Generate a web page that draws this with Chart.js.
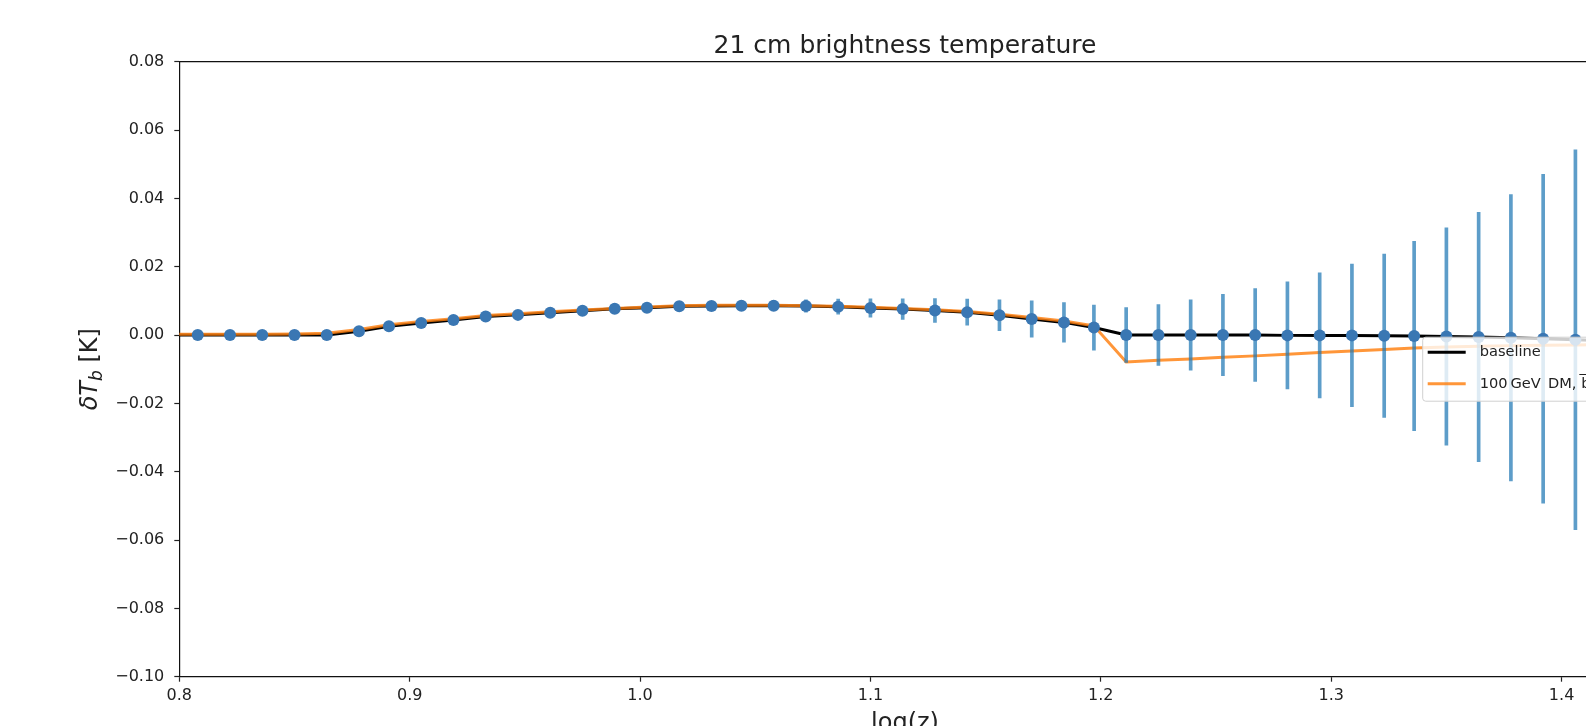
<!DOCTYPE html>
<html><head><meta charset="utf-8">
<script src="https://cdn.jsdelivr.net/npm/chart.js@4.4.1/dist/chart.umd.min.js"></script>
<style>
html,body{margin:0;padding:0;background:#fff;overflow:hidden;width:1586px;height:726px;}
#wrap{position:absolute;left:0;top:0;width:1810px;height:726px;}
</style></head>
<body><div id="wrap"><canvas id="c" width="1810" height="726"></canvas></div>
<script>
// ---- data ----
const logZ = [0.808, 0.822, 0.836, 0.850, 0.864, 0.878, 0.891, 0.905, 0.919, 0.933, 0.947, 0.961, 0.975, 0.989, 1.003, 1.017, 1.031, 1.044, 1.058, 1.072, 1.086, 1.100, 1.114, 1.128, 1.142, 1.156, 1.170, 1.184, 1.197, 1.211, 1.225, 1.239, 1.253, 1.267, 1.281, 1.295, 1.309, 1.323, 1.336, 1.350, 1.364, 1.378, 1.392, 1.406];
const dTb = [0, 0, 0, 0, 0, 0.0011, 0.0026, 0.0035, 0.0044, 0.0054, 0.0059, 0.0065, 0.0071, 0.0077, 0.0080, 0.0084, 0.0085, 0.0086, 0.0086, 0.0085, 0.0083, 0.0079, 0.0076, 0.0072, 0.0067, 0.0058, 0.0047, 0.0037, 0.0022, 0, 0, 0, 0, 0, -0.0001, -0.0001, -0.0001, -0.0002, -0.0003, -0.0004, -0.0006, -0.0008, -0.0011, -0.0014];
const dTbErr = [0.0003, 0.0003, 0.0003, 0.0004, 0.0004, 0.0004, 0.0005, 0.0005, 0.0005, 0.0006, 0.0006, 0.0007, 0.0007, 0.0008, 0.0009, 0.0010, 0.0011, 0.0012, 0.0015, 0.0018, 0.0022, 0.0027, 0.0030, 0.0035, 0.0038, 0.0045, 0.0053, 0.0058, 0.0066, 0.0080, 0.0089, 0.0103, 0.0119, 0.0136, 0.0157, 0.0183, 0.0209, 0.0239, 0.0277, 0.0318, 0.0365, 0.0419, 0.0481, 0.0556];
const curveZ = [0.794, 0.808, 0.822, 0.836, 0.850, 0.864, 0.878, 0.891, 0.905, 0.919, 0.933, 0.947, 0.961, 0.975, 0.989, 1.003, 1.017, 1.031, 1.044, 1.058, 1.072, 1.086, 1.100, 1.114, 1.128, 1.142, 1.156, 1.170, 1.184, 1.197, 1.211, 1.225, 1.239, 1.253, 1.267, 1.281, 1.295, 1.309, 1.323, 1.336, 1.350, 1.364, 1.378, 1.392, 1.406, 1.420];
const baselineCurve = [0, 0, 0, 0, 0, 0, 0.0011, 0.0026, 0.0035, 0.0044, 0.0054, 0.0059, 0.0065, 0.0071, 0.0077, 0.0080, 0.0084, 0.0085, 0.0086, 0.0086, 0.0085, 0.0083, 0.0079, 0.0076, 0.0072, 0.0067, 0.0058, 0.0047, 0.0037, 0.0022, 0, 0, 0, 0, 0, -0.0001, -0.0001, -0.0001, -0.0002, -0.0003, -0.0004, -0.0006, -0.0008, -0.0011, -0.0014, -0.0017];
const dmCurve = [0.0002, 0.0002, 0.0002, 0.0002, 0.0003, 0.0005, 0.0016, 0.0030, 0.0040, 0.0048, 0.0057, 0.0062, 0.0068, 0.0073, 0.0078, 0.0082, 0.0086, 0.0087, 0.0087, 0.0087, 0.0086, 0.0084, 0.0081, 0.0078, 0.0074, 0.0069, 0.0061, 0.0051, 0.0041, 0.0027, -0.0079, -0.0074, -0.0070, -0.0065, -0.0061, -0.0056, -0.0051, -0.0047, -0.0042, -0.0038, -0.0035, -0.0033, -0.0031, -0.0030, -0.0029, -0.0028];
const xTickValues = [0.8, 0.9, 1.0, 1.1, 1.2, 1.3, 1.4];
const xTickLabels = ['0.8', '0.9', '1.0', '1.1', '1.2', '1.3', '1.4'];
const yTickValues = [-0.10, -0.08, -0.06, -0.04, -0.02, 0.00, 0.02, 0.04, 0.06, 0.08];
const yTickLabels = ['\u22120.10', '\u22120.08', '\u22120.06', '\u22120.04', '\u22120.02', '0.00', '0.02', '0.04', '0.06', '0.08'];
const seriesLabels = ['baseline', '100\u2009GeV\u2002DM, b\u0305b'];
const titleText = '21 cm brightness temperature';
const xTitle = 'log(z)';

// ---- chart ----
const FONT = 'DejaVu Sans';
Chart.defaults.font.family = FONT;
Chart.defaults.color = '#222';
const AXW = 179.3;

const extras = {
  id: 'extras',
  afterDraw(chart) {
    const {ctx, chartArea: a} = chart;
    ctx.save();
    // top/right spines
    ctx.strokeStyle = '#111'; ctx.lineWidth = 1.2;
    ctx.beginPath(); ctx.moveTo(a.left, a.top); ctx.lineTo(a.right, a.top); ctx.lineTo(a.right, a.bottom); ctx.stroke();
    // y axis title: δT_b [K]
    ctx.translate(97, (a.top + a.bottom) / 2);
    ctx.rotate(-Math.PI / 2);
    ctx.fillStyle = '#222';
    ctx.textBaseline = 'alphabetic';
    ctx.textAlign = 'left';
    const parts = [
      {t: '\u03B4T', f: 'italic 24px "' + FONT + '"', dy: 0},
      {t: 'b', f: 'italic 17px "' + FONT + '"', dy: 5},
      {t: ' [K]', f: '24px "' + FONT + '"', dy: 0}
    ];
    let tot = 0;
    parts.forEach(p => { ctx.font = p.f; p.w = ctx.measureText(p.t).width; tot += p.w; });
    let u = -tot / 2;
    parts.forEach(p => { ctx.font = p.f; ctx.fillText(p.t, u, p.dy); u += p.w; });
    ctx.restore();

    // legend (center right, like matplotlib)
    ctx.save();
    const lw = 201, lh = 64;
    const L = a.right - 7 - lw, T = (a.top + a.bottom) / 2 - lh / 2;
    const r = 3;
    ctx.beginPath();
    ctx.moveTo(L + r, T); ctx.lineTo(L + lw - r, T); ctx.arcTo(L + lw, T, L + lw, T + r, r);
    ctx.lineTo(L + lw, T + lh - r); ctx.arcTo(L + lw, T + lh, L + lw - r, T + lh, r);
    ctx.lineTo(L + r, T + lh); ctx.arcTo(L, T + lh, L, T + lh - r, r);
    ctx.lineTo(L, T + r); ctx.arcTo(L, T, L + r, T, r);
    ctx.closePath();
    ctx.fillStyle = 'rgba(255,255,255,0.8)'; ctx.fill();
    ctx.strokeStyle = '#d0d0d0'; ctx.lineWidth = 1; ctx.stroke();
    const entries = seriesLabels.map(lbl => chart.data.datasets.find(d => d.label === lbl));
    ctx.font = '14.6px "' + FONT + '"';
    ctx.textBaseline = 'middle'; ctx.textAlign = 'left';
    entries.forEach((d, i) => {
      const y = T + 15 + i * 31.6;
      ctx.strokeStyle = d.borderColor; ctx.lineWidth = 3;
      ctx.beginPath(); ctx.moveTo(L + 5, y); ctx.lineTo(L + 43, y); ctx.stroke();
      ctx.fillStyle = '#222';
      ctx.fillText(d.label, L + 57, y);
    });
    ctx.restore();
  }
};

new Chart(document.getElementById('c'), {
  type: 'line',
  data: {
    datasets: [
      {
        type: 'line', label: 'data', showLine: false,
        data: logZ.map((x, i) => ({x: x, y: dTb[i]})),
        pointRadius: 6, pointBackgroundColor: '#3a77b3', pointBorderWidth: 0,
        pointHoverRadius: 6, order: 0
      },
      {
        type: 'bar', label: 'errors',
        data: logZ.map((x, i) => ({x: x, y: [dTb[i] - dTbErr[i], dTb[i] + dTbErr[i]]})),
        backgroundColor: 'rgba(31,119,180,0.72)', borderWidth: 0,
        barThickness: 3, order: 1
      },
      {
        type: 'line', label: seriesLabels[1],
        data: curveZ.map((x, i) => ({x: x, y: dmCurve[i]})),
        borderColor: 'rgba(255,127,14,0.82)', borderWidth: 3, pointRadius: 0,
        tension: 0, fill: false, order: 2
      },
      {
        type: 'line', label: seriesLabels[0],
        data: curveZ.map((x, i) => ({x: x, y: baselineCurve[i]})),
        borderColor: '#000000', borderWidth: 3, pointRadius: 0,
        tension: 0, fill: false, order: 3
      }
    ]
  },
  options: {
    responsive: false, animation: false, devicePixelRatio: 1,
    layout: {padding: 0},
    plugins: {
      legend: {display: false},
      tooltip: {enabled: false},
      title: {
        display: true, text: titleText, color: '#222',
        font: {family: FONT, size: 25, weight: 'normal', lineHeight: 1.2},
        padding: {top: 31, bottom: 0.7}
      }
    },
    scales: {
      x: {
        type: 'linear', min: 0.8, max: 1.43, offset: false,
        afterBuildTicks: s => { s.ticks = xTickValues.map(v => ({value: v})); },
        afterFit: s => { s.height = 49.3; },
        ticks: {callback: (v, i) => xTickLabels[i], font: {size: 16}, color: '#222', padding: 5, maxRotation: 0, autoSkip: false},
        grid: {offset: false, drawOnChartArea: false, drawTicks: true, tickLength: 5, color: '#222', tickWidth: 1.2},
        border: {display: true, color: '#111', width: 1.2},
        title: {display: true, text: xTitle, color: '#222', font: {size: 24, lineHeight: 1.2}, padding: {top: 0, bottom: -12}}
      },
      y: {
        type: 'linear', position: 'left', min: -0.10, max: 0.08,
        afterBuildTicks: s => { s.ticks = yTickValues.map(v => ({value: v})); },
        afterFit: s => { s.width = AXW; },
        ticks: {callback: (v, i) => yTickLabels[i], font: {size: 16}, color: '#222', padding: 10, autoSkip: false},
        grid: {offset: false, drawOnChartArea: false, drawTicks: true, tickLength: 5, color: '#222', tickWidth: 1.2},
        border: {display: true, color: '#111', width: 1.2}
      },
      yRight: {
        type: 'linear', position: 'right', min: -0.10, max: 0.08, display: true,
        afterFit: s => { s.width = AXW; },
        ticks: {display: false},
        grid: {display: false, drawTicks: false},
        border: {display: false}
      }
    }
  },
  plugins: [extras]
});
</script>
</body></html>
